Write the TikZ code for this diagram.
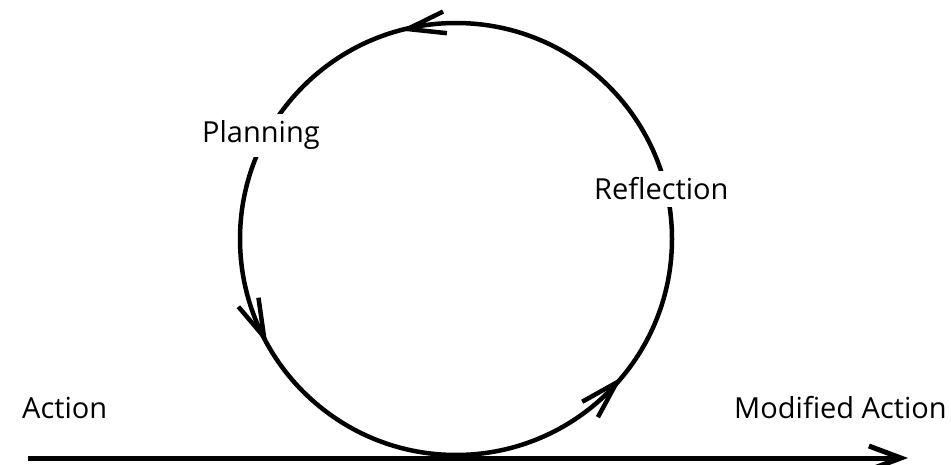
\documentclass[tikz,border=0pt]{standalone}
\usepackage{fontspec}
\setmainfont{Open Sans}
\usetikzlibrary{arrows.meta,decorations.markings}

\newcommand{\bentarrow}{\pgftransformrotate{-5}\arrowreversed{tip}}

\begin{document}
\begin{tikzpicture}[
  x=1pt,y=-1pt,
  label/.style={fill=white,inner sep=4pt,inner ysep=7pt,font=\fontsize{29}{33}\selectfont,anchor=base west},
  tip/.tip={Straight Barb[length=38pt,width=22pt,line width=4.5pt]},
  loop/.style={line width=4.5pt,decoration={markings,
    mark=at position 0.110 with {\bentarrow},
    mark=at position 0.419 with {\bentarrow},
    mark=at position 0.708 with {\bentarrow}},postaction={decorate}},
  arrow/.style={-{Straight Barb[length=32pt,width=24pt,line width=5pt]},line width=5pt}
]
\useasboundingbox (0,0) rectangle (951,465);
\coordinate (c) at (456,239);
\coordinate (start) at (28,458);
\coordinate (end) at (908,458);
% cycle
\draw[loop] (c) circle[radius=216];
\draw[arrow] (start) -- (end);
% labels
\node[label] (plan) at (198,143) {Planning};
\node[label] (refl) at (590,200) {Reflection};
\node[label,fill=none] (act) at (18,418) {Action};
\node[label,fill=none] (mod) at (730,418) {Modified Action};
\end{tikzpicture}
\end{document}
